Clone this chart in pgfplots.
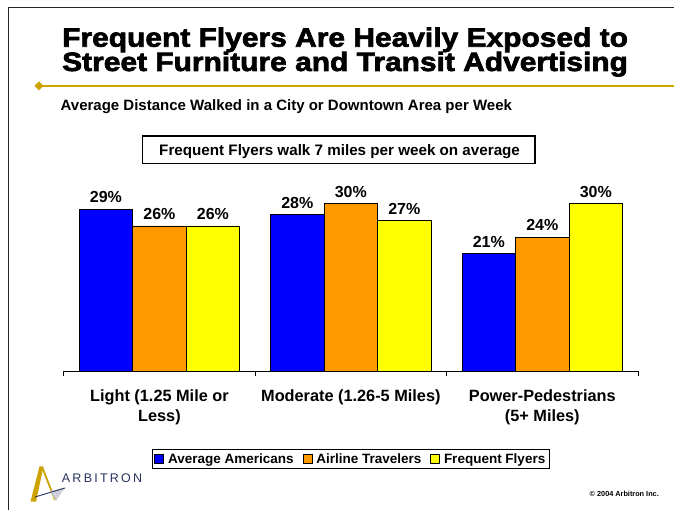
\documentclass[border=0pt]{standalone}
\usepackage{fontspec}
\setmainfont{Liberation Sans}
\newfontfamily\titlefont{Liberation Sans}[FakeStretch=1.13, BoldFeatures={FakeBold=2.5}]
\newfontfamily\logofont{Liberation Sans}[LetterSpace=18]
\usepackage{pgfplots}
\pgfplotsset{compat=1.18}
\definecolor{barblue}{RGB}{0,0,255}
\definecolor{barorange}{RGB}{255,153,0}
\definecolor{baryellow}{RGB}{255,255,0}
\definecolor{gold}{RGB}{204,163,0}
\definecolor{navy}{RGB}{40,52,95}
\begin{document}
\begin{tikzpicture}
\begin{scope}[x=1pt,y=1pt]
\path[use as bounding box, fill=white] (0,0) rectangle (674,510);
% frame
\draw[line width=1.4pt, black!85] (8.6,0) -- (8.6,502.7) -- (674,502.7);
% gold rule with diamond
\draw[gold, line width=2pt] (39,424) -- (674,424);
\fill[gold] (39,428.5) -- (43.5,424) -- (39,419.5) -- (34.5,424) -- cycle;
% titles
\node[anchor=base west, inner sep=0pt, font=\titlefont\bfseries\fontsize{26.5}{30}\selectfont] at (62,463.3) {Frequent Flyers Are Heavily Exposed to};
\node[anchor=base west, inner sep=0pt, font=\titlefont\bfseries\fontsize{26.5}{30}\selectfont] at (62,439) {Street Furniture and Transit Advertising};
\node[anchor=base west, inner sep=0pt, font=\bfseries\fontsize{15}{18}\selectfont] at (60.5,399) {Average Distance Walked in a City or Downtown Area per Week};
% note box
\draw[black, line width=1.5pt] (142.7,346.7) rectangle (535,374);
\node[anchor=base, inner sep=0pt, font=\bfseries\fontsize{15.2}{18}\selectfont] at (339.6,354) {Frequent Flyers walk 7 miles per week on average};
\end{scope}

\begin{axis}[
  at={(63.7pt,139pt)}, anchor=south west,
  scale only axis, width=574.3pt, height=223.2pt,
  xmin=-0.5, xmax=2.5, ymin=0, ymax=40,
  ybar=0pt, bar width=53.5pt,
  axis x line*=bottom, axis y line=none,
  x axis line style={black, line width=0.8pt, -},
  xtick={0,1,2},
  xticklabels={{Light (1.25 Mile or\\Less)},{Moderate (1.26-5 Miles)},{Power-Pedestrians\\(5+ Miles)}},
  major tick length=0pt,
  minor xtick={-0.5,0.5,1.5,2.5},
  minor tick length=5pt, tick align=outside,
  minor tick style={black, line width=0.8pt},
  xticklabel style={align=center, font=\bfseries\fontsize{16.3}{20}\selectfont, yshift=-15pt},
  /pgf/number format/assume math mode=true,
  nodes near coords={\pgfmathprintnumber{\pgfplotspointmeta}\%},
  every node near coord/.append style={font=\bfseries\fontsize{16}{19}\selectfont, black, yshift=2.5pt},
  legend style={at={(0.5,-0.3943)}, anchor=center, legend columns=3, draw=black, line width=1pt,
    font=\bfseries\fontsize{13.5}{16}\selectfont, inner sep=2pt,
    /tikz/every even column/.append style={column sep=7pt}},
  legend image code/.code={\draw[#1, draw=black, line width=0.6pt] (0pt,-4.5pt) rectangle (9pt,4.5pt); \path (11pt,0pt);},
  clip=false,
]
\addplot[fill=barblue, draw=black, line width=0.7pt] coordinates {(0,29) (1,28) (2,21)};
\addplot[fill=barorange, draw=black, line width=0.7pt] coordinates {(0,26) (1,30) (2,24)};
\addplot[fill=baryellow, draw=black, line width=0.7pt] coordinates {(0,26) (1,27) (2,30)};
\legend{Average Americans, Airline Travelers, Frequent Flyers}
\end{axis}

\begin{scope}[x=1pt,y=1pt]
% logo
\fill[gold] (39.5,43.5) -- (43.5,43.5) -- (36,8.3) -- (30.5,8.3) -- cycle;
\draw[gold, line width=1.8pt] (42.5,42) -- (55,10);
\fill[navy!20] (50,19) -- (65,22.5) -- (56,9) -- cycle;
\draw[navy!45, line width=0.3pt] (52,17) -- (56.5,11) (55,18.5) -- (58.5,13.5) (58,20) -- (60.5,16.5) (61,21) -- (62.5,19);
\draw[navy, line width=0.9pt] (35,13) -- (65,22);
\node[anchor=base west, inner sep=0pt, text=navy, font=\logofont\fontsize{12.5}{14}\selectfont] at (61.7,27.7) {ARBITRON};
\node[anchor=base east, inner sep=0pt, font=\bfseries\fontsize{7.3}{9}\selectfont] at (659,13) {\textcopyright{} 2004 Arbitron Inc.};
\end{scope}
\end{tikzpicture}
\end{document}
